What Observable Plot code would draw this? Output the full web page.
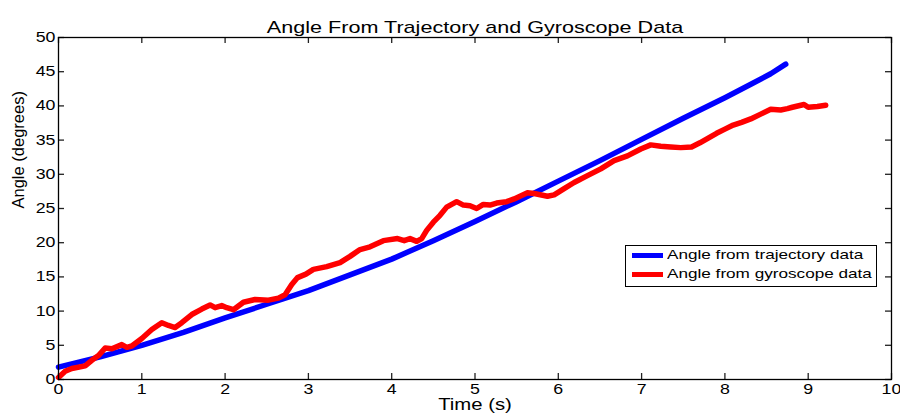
<!DOCTYPE html>
<html><head><meta charset="utf-8">
<script src="https://cdn.jsdelivr.net/npm/d3@7"></script>
<script src="https://cdn.jsdelivr.net/npm/@observablehq/plot@0.6"></script>
<style>
body{margin:0;background:#fff;}
#wrap{position:relative;width:900px;height:416px;overflow:hidden;}
#legend{position:absolute;left:625px;top:245px;width:252px;height:42px;border:1px solid #000;background:#fff;box-sizing:border-box;font-family:"Liberation Sans",Arial,sans-serif;font-size:13.5px;color:#000;}
.item{position:absolute;left:0;height:16px;width:250px;}
.sw{position:absolute;left:6px;width:31px;height:5px;}
.lab{position:absolute;left:41px;top:-1px;white-space:nowrap;transform:scaleX(1.27);transform-origin:left center;line-height:16px;}
</style>
</head><body><div id="wrap"></div>
<script>
const titleText = "Angle From Trajectory and Gyroscope Data";
const xLabel = "Time (s)";
const yLabel = "Angle (degrees)";
const seriesNames = ["Angle from trajectory data", "Angle from gyroscope data"];
const seriesColors = ["#0000ff", "#ff0000"];
const xTicks = [0,1,2,3,4,5,6,7,8,9,10];
const yTicks = [0,5,10,15,20,25,30,35,40,45,50];

const trajT = [0, 0.5, 1, 1.5, 2, 2.5, 3, 3.5, 4, 4.5, 5, 5.5, 6, 6.5, 7, 7.5, 8, 8.3, 8.55, 8.73];
const trajV = [1.8, 3.3, 5.0, 6.9, 9.0, 11.0, 13.0, 15.3, 17.6, 20.3, 23.1, 26.0, 29.0, 32.0, 35.1, 38.2, 41.2, 43.1, 44.7, 46.1];

const gyroT = [0, 0.08, 0.16, 0.32, 0.40, 0.48, 0.56, 0.64, 0.76, 0.82, 0.88, 1.0, 1.12, 1.24, 1.32, 1.40, 1.48, 1.60, 1.72, 1.82, 1.88, 1.96, 2.02, 2.10, 2.22, 2.36, 2.52, 2.64, 2.72, 2.80, 2.87, 2.97, 3.06, 3.22, 3.38, 3.50, 3.62, 3.74, 3.90, 4.07, 4.15, 4.22, 4.30, 4.36, 4.42, 4.50, 4.58, 4.66, 4.78, 4.86, 4.94, 5.02, 5.10, 5.18, 5.26, 5.38, 5.47, 5.63, 5.71, 5.87, 5.95, 6.07, 6.19, 6.35, 6.51, 6.67, 6.83, 6.99, 7.11, 7.23, 7.35, 7.47, 7.6, 7.7, 7.8, 7.9, 8.0, 8.1, 8.2, 8.31, 8.43, 8.55, 8.67, 8.75, 8.81, 8.95, 9.0, 9.11, 9.21];
const gyroV = [0.3, 1.2, 1.6, 2.0, 2.8, 3.5, 4.6, 4.5, 5.1, 4.7, 4.9, 6.0, 7.3, 8.3, 7.9, 7.6, 8.3, 9.5, 10.3, 10.9, 10.5, 10.8, 10.5, 10.2, 11.3, 11.7, 11.6, 11.9, 12.4, 13.9, 14.9, 15.4, 16.1, 16.5, 17.1, 18.0, 19.0, 19.4, 20.3, 20.6, 20.3, 20.6, 20.2, 20.6, 21.8, 23.0, 24.0, 25.2, 26.0, 25.5, 25.4, 25.0, 25.6, 25.5, 25.8, 26.0, 26.4, 27.3, 27.2, 26.8, 27.0, 27.9, 28.8, 29.8, 30.8, 32.0, 32.7, 33.7, 34.3, 34.1, 34.0, 33.9, 34.0, 34.6, 35.3, 36.0, 36.6, 37.2, 37.6, 38.1, 38.8, 39.5, 39.4, 39.6, 39.8, 40.2, 39.8, 39.9, 40.1];

const traj = trajT.map((t, i) => ({t, v: trajV[i]}));
const gyro = gyroT.map((t, i) => ({t, v: gyroV[i]}));

const FONT = "Liberation Sans, Arial, sans-serif";
const S = 1.27;
const W = 900, H = 416, ML = 58, MR = 9, MT = 37, MB = 37;
const TL = 6; // tick length (px)
const innerW = W - ML - MR, innerH = H - MT - MB;
const xMin = 0, xMax = 10, yMin = 0, yMax = 50;
const tx = (xMax - xMin) * TL / innerW;  // tick length in x units
const ty = (yMax - yMin) * TL / innerH;  // tick length in y units

const plot = Plot.plot({
  width: W,
  height: H,
  marginLeft: ML,
  marginRight: MR,
  marginTop: MT,
  marginBottom: MB,
  style: {fontFamily: FONT, background: "#fff", color: "#000"},
  x: {domain: [xMin, xMax]},
  y: {domain: [yMin, yMax]},
  marks: [
    Plot.line(traj, {x: "t", y: "v", stroke: seriesColors[0], strokeWidth: 5.5, strokeLinejoin: "round"}),
    Plot.line(gyro, {x: "t", y: "v", stroke: seriesColors[1], strokeWidth: 5.5, strokeLinejoin: "round"}),
    // inward ticks on all four sides
    Plot.ruleX(xTicks, {x: d => d, y1: yMin, y2: yMin + ty, stroke: "#222", strokeWidth: 1.3}),
    Plot.ruleX(xTicks, {x: d => d, y1: yMax - ty, y2: yMax, stroke: "#222", strokeWidth: 1.3}),
    Plot.ruleY(yTicks, {y: d => d, x1: xMin, x2: xMin + tx, stroke: "#222", strokeWidth: 1.3}),
    Plot.ruleY(yTicks, {y: d => d, x1: xMax - tx, x2: xMax, stroke: "#222", strokeWidth: 1.3}),
    Plot.frame({stroke: "#000", strokeWidth: 1.3}),
    Plot.axisX({ticks: xTicks, tickSize: 0, tickPadding: 5, label: null, fontSize: 14, fill: "#000"}),
    Plot.axisY({ticks: yTicks, tickSize: 0, tickPadding: 3, label: null, fontSize: 14, fill: "#000"}),
    Plot.text([titleText], {frameAnchor: "top", dy: -17, fontSize: 17, fill: "#000"}),
    Plot.text([xLabel], {frameAnchor: "bottom", dy: 30, fontSize: 16, fill: "#000"}),
    Plot.text([yLabel], {frameAnchor: "left", dx: -40, rotate: -90, fontSize: 16.5, fill: "#000"})
  ]
});

const wrap = document.getElementById("wrap");
wrap.appendChild(plot);

// horizontal stretch of horizontal texts to match the reference's aspect
plot.querySelectorAll("text").forEach(el => {
  const tr = el.getAttribute("transform") || "";
  if (tr.includes("rotate")) return;
  const w = el.getComputedTextLength();
  if (w > 0) {
    el.setAttribute("textLength", w * S);
    el.setAttribute("lengthAdjust", "spacingAndGlyphs");
  }
});

const legend = document.createElement("div");
legend.id = "legend";
seriesNames.forEach((name, i) => {
  const item = document.createElement("div");
  item.className = "item";
  item.style.top = (i === 0 ? 2 : 21) + "px";
  const sw = document.createElement("div");
  sw.className = "sw";
  sw.style.top = "5px";
  sw.style.background = seriesColors[i];
  const lab = document.createElement("span");
  lab.className = "lab";
  lab.textContent = name;
  item.appendChild(sw);
  item.appendChild(lab);
  legend.appendChild(item);
});
wrap.appendChild(legend);
</script>
</body></html>
